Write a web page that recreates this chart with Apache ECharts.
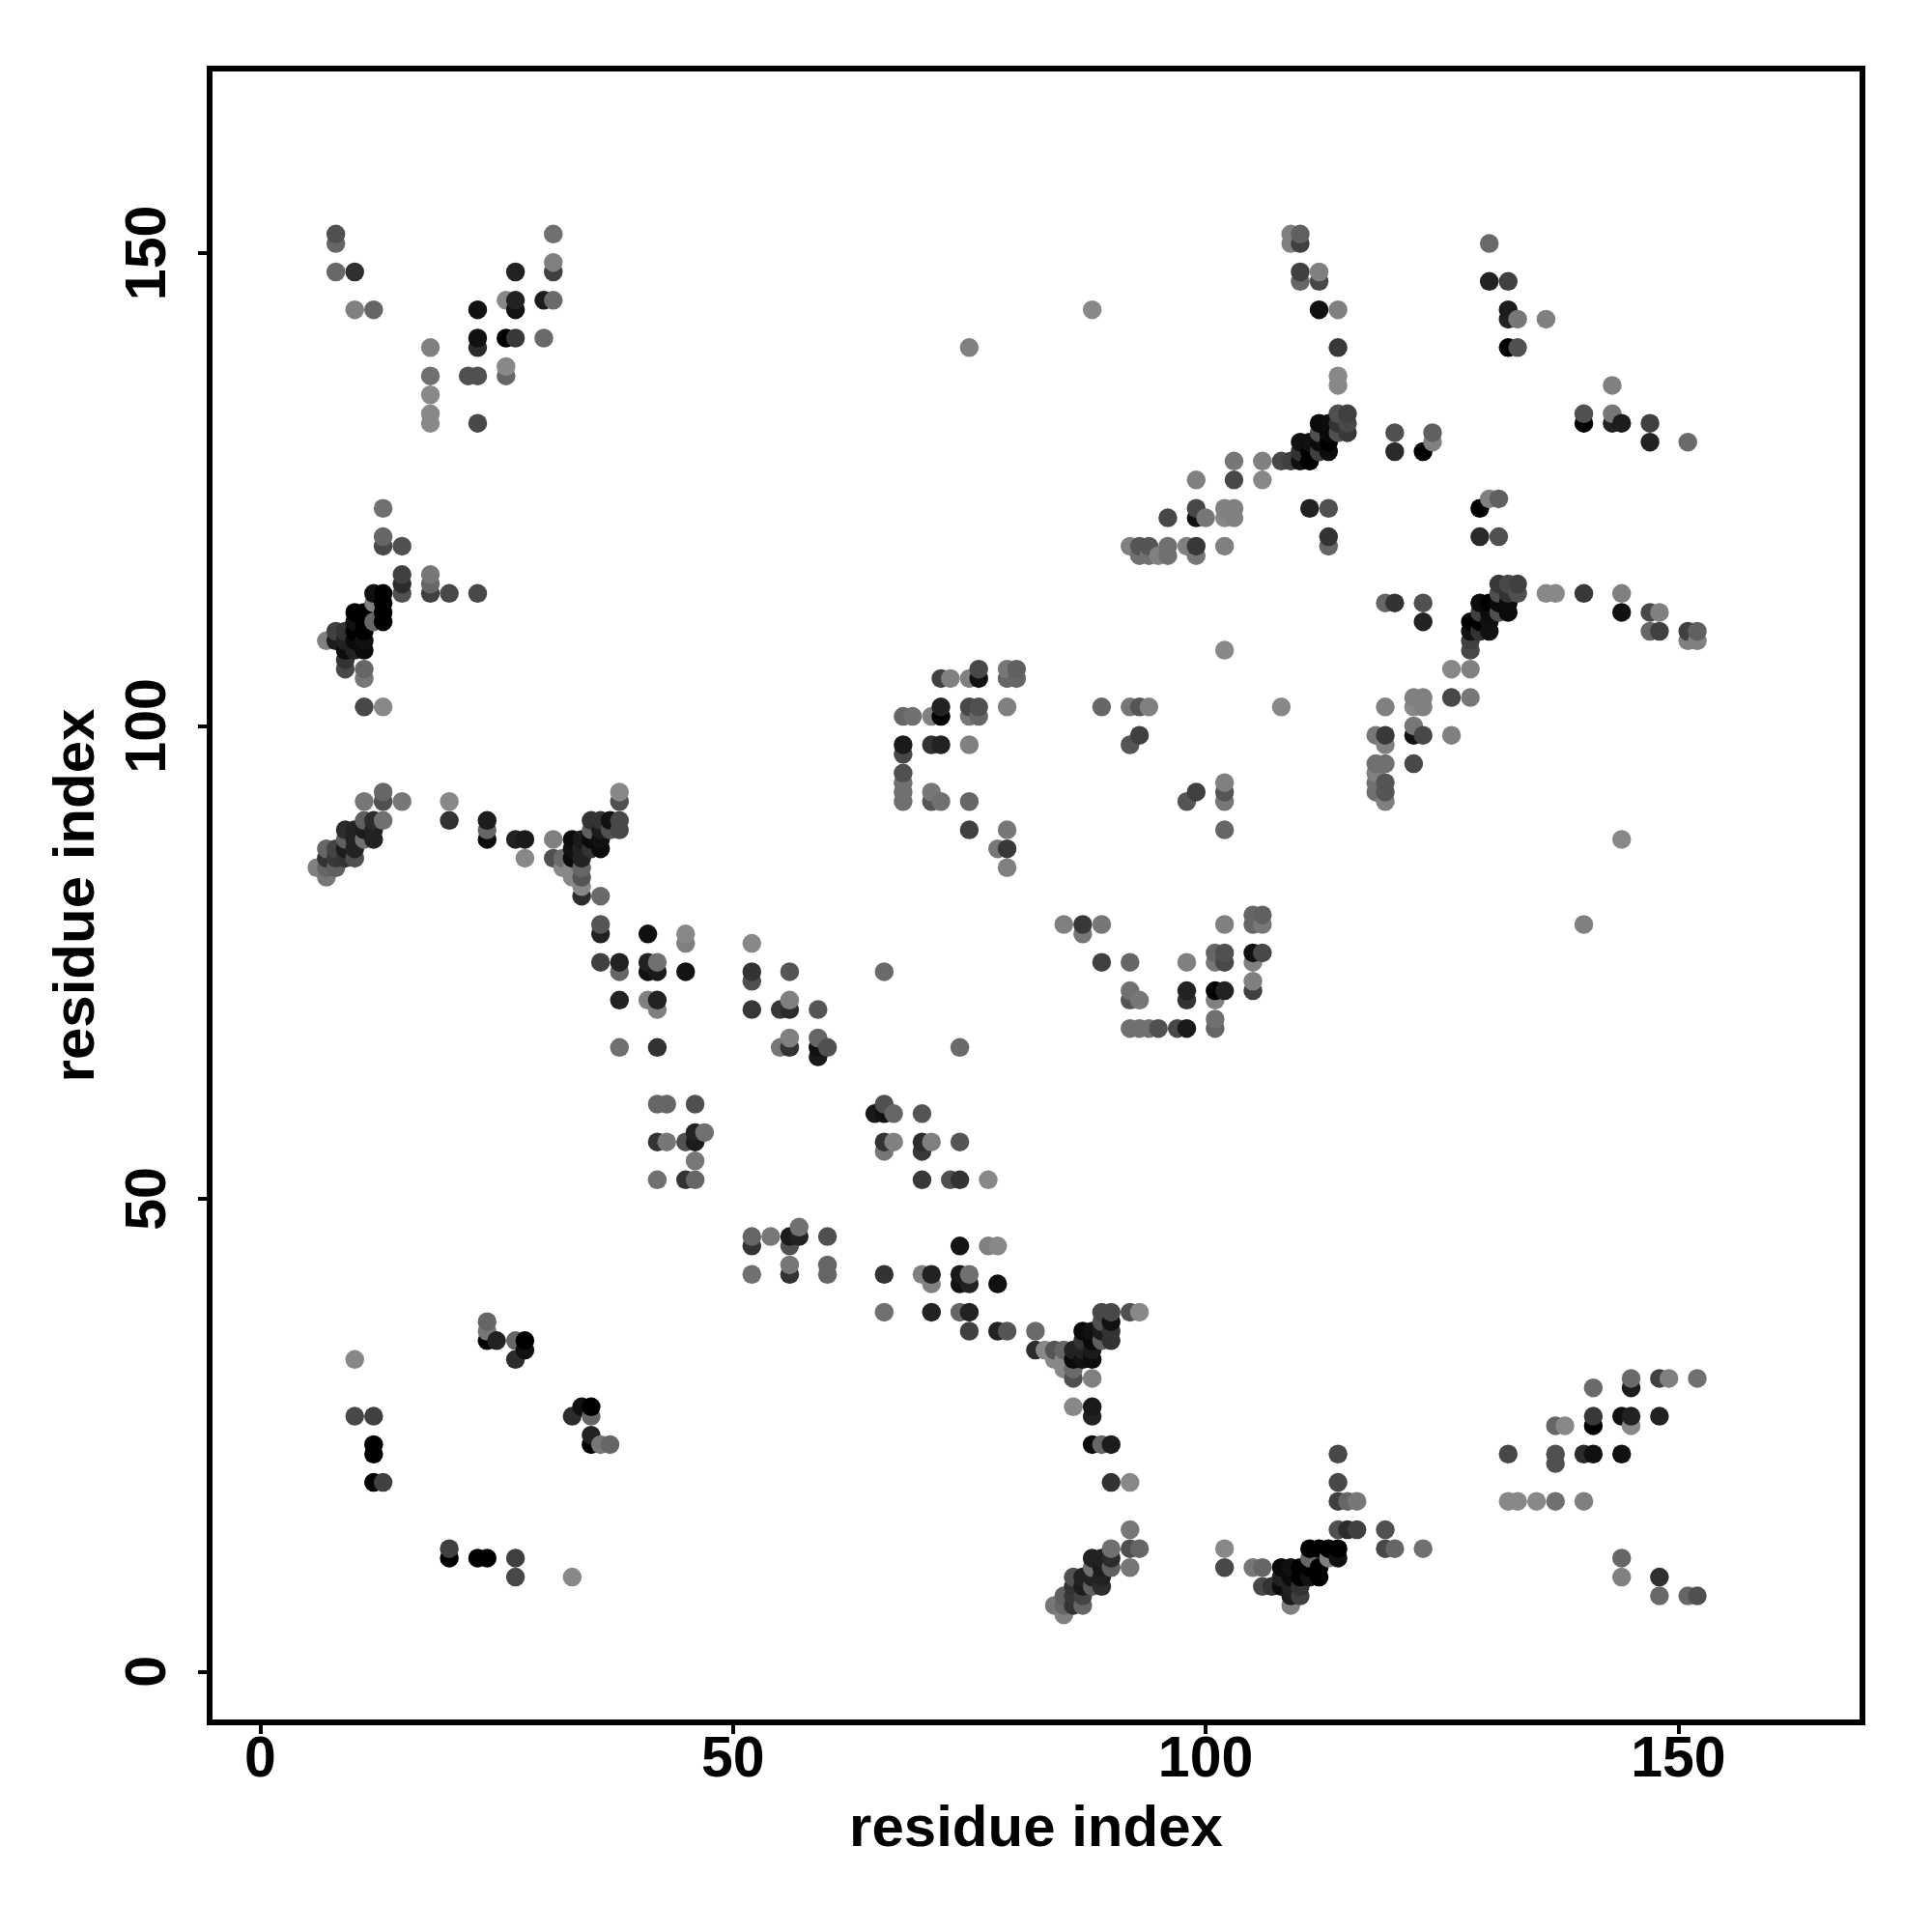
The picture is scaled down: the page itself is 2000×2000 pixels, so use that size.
<!DOCTYPE html>
<html>
<head>
<meta charset="utf-8">
<style>html,body{margin:0;padding:0;background:#fff}#c{width:2000px;height:2000px}</style>
<script src="https://cdn.jsdelivr.net/npm/echarts@6/dist/echarts.min.js"></script>
</head>
<body>
<div id="c"></div>
<script>
// Each entry: [residue i, residue j, grey level]. Contact map, listed for i<j; the map is symmetric.
const contactsFarNTerm = [[8,152,80],[8,151,102],[8,148,104],[10,148,48],[10,144,128],[12,144,102],[18,140,128],[18,137,112],[18,135,136],[18,133,136],[18,132,136],[22,137,80],[23,137,80],[23,132,72],[23,144,17],[23,141,17],[23,140,44],[26,138,136],[26,137,102],[26,141,0],[27,141,56],[26,145,136],[27,145,34],[27,144,17],[27,148,34],[30,141,106],[30,145,28],[31,145,106],[31,152,112],[31,149,128],[31,148,64]];
const contactsSheetA = [[13,123,112],[13,120,102],[13,119,72],[15,119,80],[15,116,64],[15,115,44],[15,114,80],[18,116,119],[18,115,102],[18,114,64],[20,114,72],[23,114,72],[12,114,17],[13,114,0],[13,113,0],[13,112,0],[13,111,0],[12,113,128],[12,111,102],[10,112,0],[11,112,0],[10,111,17],[11,111,0],[10,110,0],[11,110,0],[8,110,64],[9,110,51],[8,109,28],[9,109,34],[7,109,128],[10,109,12],[11,109,17],[9,108,12],[10,108,34],[11,108,10],[9,107,51],[9,106,72],[11,106,102],[11,105,119],[11,102,72],[13,102,136]];
const contactsSheetB = [[6,85,128],[7,84,119],[7,85,102],[7,86,51],[7,87,102],[8,85,96],[8,86,56],[8,87,68],[9,86,51],[9,87,28],[9,88,96],[9,89,44],[10,86,80],[10,87,34],[10,88,34],[10,89,34],[11,88,112],[11,89,28],[11,90,96],[12,88,34],[12,89,34],[12,90,44],[11,92,119],[13,90,112],[13,92,80],[13,93,102],[15,92,119]];
const contactsSheetC = [[20,92,136],[20,90,51],[24,90,28],[24,89,102],[24,88,12],[27,88,34],[28,88,26],[28,86,136],[31,88,128],[31,86,80],[38,93,136],[38,92,80],[38,90,72],[38,89,72],[35,90,51],[36,90,51],[37,90,17],[35,89,96],[36,89,28],[37,89,80],[35,88,10],[36,88,17],[36,87,10],[33,88,12],[34,88,26],[33,87,17],[34,87,34],[35,87,51],[33,86,10],[34,86,34],[32,86,106],[32,85,136],[33,85,136],[34,85,102],[33,84,136],[34,84,85],[34,83,136],[34,82,44],[36,82,106]];
const contactsDiagonal = [[36,79,85],[36,78,34],[41,78,17],[45,78,136],[45,77,128],[52,77,136],[36,75,64],[38,75,34],[38,74,102],[41,75,34],[42,75,112],[41,74,17],[42,74,26],[45,74,20],[52,74,51],[52,73,80],[56,74,85],[66,74,106],[38,71,34],[41,71,128],[42,71,34],[42,70,128],[52,70,56],[55,70,56],[56,70,44],[56,71,128],[59,70,85],[38,66,112],[42,66,51],[55,66,119],[56,67,128],[56,66,51],[59,67,102],[59,66,17],[60,66,80],[59,65,26],[42,60,102],[43,60,102],[46,60,80],[42,56,51],[43,56,119],[45,56,80],[46,57,34],[46,56,28],[47,57,112],[46,54,119],[42,52,112],[45,52,51],[46,52,102]];
const contactsShortLoops = [[10,33,136],[10,27,72],[12,27,64],[12,24,0],[12,23,0],[12,20,0],[13,20,64],[24,37,102],[24,36,119],[24,35,0],[25,35,34],[27,35,102],[28,35,0],[28,34,17],[27,33,44]];
const contactsCTermA = [[114,136,136],[114,137,136],[114,140,56],[114,144,128],[112,144,17],[110,148,64],[110,147,102],[112,148,128],[112,147,72],[109,152,128],[110,152,96],[109,151,128],[110,151,64],[130,151,106],[130,147,34],[132,147,64],[132,144,28],[132,143,34],[133,143,119],[136,143,128],[132,140,0],[133,140,80],[120,131,80],[120,129,42],[123,129,0],[124,131,96],[124,130,128],[111,123,34],[113,123,80],[113,120,51],[113,119,102]];
const contactsCTermB = [[108,128,72],[109,128,64],[110,128,17],[111,128,0],[110,129,51],[111,129,0],[112,129,64],[113,129,12],[110,130,17],[111,130,17],[112,130,12],[113,130,0],[112,131,80],[113,131,10],[114,131,80],[115,131,56],[112,132,10],[113,132,12],[114,132,51],[115,132,72],[114,133,80],[115,133,64],[103,128,119],[106,128,128],[103,126,72],[106,126,136],[99,126,128],[99,123,72],[99,122,17],[100,122,119],[96,122,72],[102,123,128],[103,123,128],[102,122,136],[103,122,128],[92,119,128],[93,119,85],[94,119,85],[96,119,112],[98,119,128],[99,119,56],[102,119,128],[99,118,119],[93,118,112],[94,118,112],[95,118,128],[96,118,112],[102,108,136],[88,144,136]];
const contactsMiddle = [[89,102,102],[92,102,119],[93,102,85],[94,102,128],[93,99,64],[92,98,85],[72,105,64],[73,105,128],[75,105,128],[76,106,72],[76,105,17],[79,106,119],[80,106,96],[79,105,102],[80,105,102],[72,102,34],[72,101,0],[75,102,72],[76,102,80],[75,101,119],[76,101,102],[79,102,128],[71,101,128],[68,101,102],[69,101,112],[68,98,26],[68,97,72],[71,98,51],[72,98,34],[75,98,128],[68,95,80],[68,94,112],[68,93,112],[68,92,112],[71,93,119],[71,92,85],[72,92,112],[75,92,102],[75,89,64],[79,89,119],[78,87,119],[79,87,56],[79,85,128]];
const unpairedContacts = [[75,140,128],[140,79,128]];
const tickValues = [0, 50, 100, 150];
const axisTitle = "residue index";

const upper = [].concat(contactsFarNTerm, contactsSheetA, contactsSheetB, contactsSheetC, contactsDiagonal, contactsShortLoops, contactsCTermA, contactsCTermB, contactsMiddle);
const seen = new Map();
function add(x, y, g) { seen.set(x + "," + y, [x, y, g]); }
upper.forEach(function (p) { add(p[0], p[1], p[2]); add(p[1], p[0], p[2]); });
unpairedContacts.forEach(function (p) { add(p[0], p[1], p[2]); });
// Reference paints by ascending x, then ascending y: later points sit on top.
const points = Array.from(seen.values()).sort(function (a, b) { return a[0] - b[0] || a[1] - b[1]; });

const chart = echarts.init(document.getElementById('c'), null, { renderer: 'canvas' });
const font = '"Liberation Sans", Helvetica, Arial, sans-serif';
function axis(extra) {
  return Object.assign({
    type: 'value',
    name: axisTitle,
    nameLocation: 'middle',
    nameTextStyle: { fontFamily: font, fontWeight: 'bold', fontSize: 60, color: '#000' },
    splitLine: { show: false },
    axisLine: { show: false, onZero: false },
    axisTick: { show: true, customValues: tickValues, length: 12, inside: false, lineStyle: { color: '#000', width: 4 } }
  }, extra);
}
chart.setOption({
  animation: false,
  backgroundColor: '#fff',
  grid: { left: 217, top: 71, width: 1711, height: 1712, show: true, borderWidth: 6, borderColor: '#000', backgroundColor: 'transparent' },
  xAxis: axis({
    min: -5.35, max: 169.47, nameGap: 81,
    axisLabel: { customValues: tickValues, fontFamily: font, fontWeight: 'bold', fontSize: 59, color: '#000', margin: 10, hideOverlap: false }
  }),
  yAxis: axis({
    min: -5.37, max: 169.5, nameGap: 107,
    axisLabel: { customValues: tickValues, rotate: 90, align: 'center', verticalAlign: 'bottom', fontFamily: font, fontWeight: 'bold', fontSize: 59, color: '#000', margin: 33, hideOverlap: false }
  }),
  series: [{
    type: 'scatter',
    symbol: 'circle',
    symbolSize: 19.5,
    silent: true,
    data: points.map(function (p) {
      const g = p[2];
      return { value: [p[0], p[1]], itemStyle: { color: 'rgb(' + g + ',' + g + ',' + g + ')', opacity: 1 } };
    })
  }]
});
</script>
</body>
</html>
